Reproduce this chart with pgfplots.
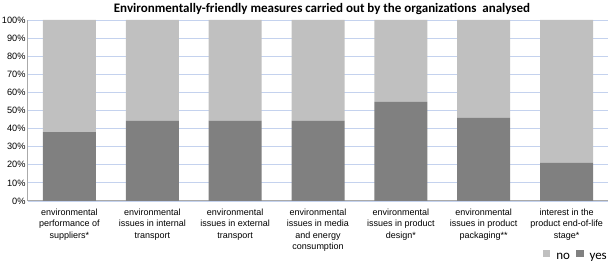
\documentclass[border=0pt]{standalone}
\usepackage{fontspec}
\setmainfont{Liberation Sans}
\newfontfamily\calibri{Carlito}
\usepackage{pgfplots}
\pgfplotsset{compat=1.18}
\definecolor{nocol}{RGB}{192,192,192}
\definecolor{yescol}{RGB}{128,128,128}
\definecolor{gridcol}{RGB}{196,210,238}
\definecolor{axcol}{RGB}{170,170,170}
\begin{document}
\begin{tikzpicture}
\begin{axis}[
  at={(0,0)}, anchor=south west,
  scale only axis, width=580pt, height=181pt,
  ybar stacked, bar width=53pt,
  xmin=-0.5, xmax=6.5, ymin=0, ymax=100,
  xtick={0,1,2,3,4,5,6},
  xticklabels={
    {environmental\\performance of\\suppliers*},
    {environmental\\issues in internal\\transport},
    {environmental\\issues in external\\transport},
    {environmental\\issues in media\\and energy\\consumption},
    {environmental\\issues in product\\design*},
    {environmental\\issues in product\\packaging**},
    {interest in the\\product end-of-life\\stage*}},
  xticklabel style={align=center, font=\fontsize{9}{11.6}\selectfont, anchor=north, yshift=-4pt},
  ytick={0,10,...,100},
  yticklabels={0\%,10\%,20\%,30\%,40\%,50\%,60\%,70\%,80\%,90\%,100\%},
  yticklabel style={font=\fontsize{9.2}{11}\selectfont, xshift=1pt},
  major tick length=0pt,
  axis x line*=bottom, axis y line*=left,
  axis line style={axcol, line width=1pt, -},
  ymajorgrids, grid style={gridcol, line width=0.8pt},
  legend style={at={(1,0)}, anchor=north east, yshift=-49pt, xshift=1pt, draw=none, fill=none,
    font=\calibri\fontsize{13}{14}\selectfont, column sep=4pt, inner sep=0pt},
  legend columns=2,
  legend image code/.code={\fill[#1,draw=none] (0pt,-0.5pt) rectangle (7.5pt,6.5pt);},
]
\addplot+[draw=none, fill=yescol, forget plot] coordinates {(0,38) (1,44.4) (2,44.4) (3,44.4) (4,54.8) (5,45.9) (6,21.1)};
\addplot+[draw=none, fill=nocol, forget plot] coordinates {(0,62) (1,55.6) (2,55.6) (3,55.6) (4,45.2) (5,54.1) (6,78.9)};
\addlegendimage{fill=nocol, draw=none}
\addlegendentry{no}
\addlegendimage{fill=yescol, draw=none}
\addlegendentry{yes}
\end{axis}
\node[font=\calibri\bfseries\fontsize{13}{15}\selectfont, anchor=base] at (294pt,188.5pt) {Environmentally-friendly measures carried out by the organizations\ \ analysed};
\pgfresetboundingbox
\path[use as bounding box] (-28pt,-60pt) rectangle (581pt,201pt);
\end{tikzpicture}
\end{document}
